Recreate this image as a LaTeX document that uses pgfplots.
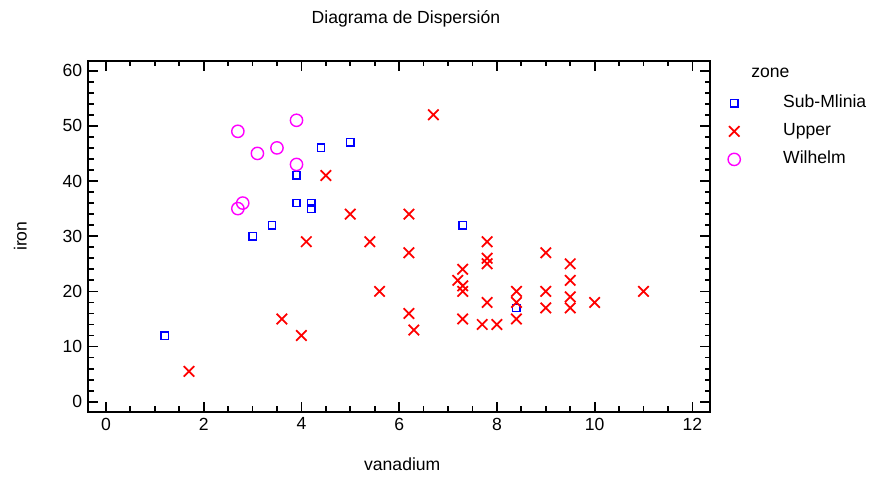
\documentclass[border=0pt]{standalone}
\usepackage{pgfplots}
\pgfplotsset{compat=1.18}
\usepackage{fontspec}
\setmainfont{Liberation Sans}
\definecolor{SubBlue}{RGB}{0,0,255}
\definecolor{UpRed}{RGB}{255,0,0}
\definecolor{WilMag}{RGB}{255,0,255}

\begin{document}
\begin{tikzpicture}
  % 1px = 0.02cm, axis box SW corner at (0,0)
  \useasboundingbox (-1.766,-1.386) rectangle (15.714,8.234);
  \begin{axis}[
    scale only axis,
    width=12.434cm,height=7.02cm,
    xmin=-0.36,xmax=12.36,ymin=-1.8,ymax=61.8,
    xtick={0,2,...,12},ytick={0,10,...,60},
    minor x tick num=3,minor y tick num=4,
    tick align=inside,xtick pos=both,ytick pos=both,
    major tick length=0.2cm,minor tick length=0.11cm,
    axis line style={line width=1.1pt},
    every tick/.style={black,line width=1pt},
    /pgf/number format/assume math mode=true,
    tick label style={font=\fontsize{10}{12}\selectfont},
    label style={font=\fontsize{10}{12}\selectfont},
    title={Diagrama de Dispersión},
    title style={font=\fontsize{10}{12}\selectfont,at={(0.511,1)},anchor=center,yshift=0.63cm},
    xlabel={vanadium},ylabel={iron},
    xlabel style={at={(0.505,0)},anchor=center,yshift=-1.06cm},
    ylabel style={at={(0,0.5)},anchor=center,yshift=1.36cm},
    clip=false,
    legend cell align=left,
    legend image code/.code={\path[draw=none] (0cm,0cm) -- (0.98cm,0cm); \draw[#1] plot[only marks] coordinates {(0cm,0cm)};},
    legend style={draw=none,fill=none,at={(1.020,0.915)},anchor=north west,
      font=\fontsize{10}{12}\selectfont,row sep=0.2cm,
      nodes={inner sep=0pt,text height=0.26cm,text depth=0.1cm}},
  ]
    \addplot[only marks,mark=square,mark size=2.1pt,color=SubBlue,mark options={line width=0.8pt}] coordinates {
      (1.2,12) (3.0,30) (3.4,32) (3.9,41) (3.9,36) (4.2,36) (4.2,35)
      (4.4,46) (5.0,47) (7.3,32) (8.4,17)
    };
    \addlegendentry{Sub-Mlinia}
    \addplot[only marks,mark=x,mark size=4.2pt,color=UpRed,mark options={line width=1pt}] coordinates {
      (1.7,5.5) (3.6,15) (4.0,12) (4.1,29) (4.5,41) (5.0,34) (5.4,29)
      (5.6,20) (6.2,34) (6.2,27) (6.2,16) (6.3,13) (6.7,52)
      (7.2,22) (7.3,21) (7.3,24) (7.3,20) (7.3,15) (7.7,14)
      (7.8,29) (7.8,26) (7.8,25) (7.8,18) (8.0,14)
      (8.4,20) (8.4,18) (8.4,15) (9.0,27) (9.0,20) (9.0,17)
      (9.5,25) (9.5,22) (9.5,19) (9.5,17) (10.0,18) (11.0,20)
    };
    \addlegendentry{Upper}
    \addplot[only marks,mark=o,mark size=3.5pt,color=WilMag,mark options={line width=0.8pt}] coordinates {
      (2.7,49) (3.9,51) (3.1,45) (3.5,46) (3.9,43) (2.8,36) (2.7,35)
    };
    \addlegendentry{Wilhelm}
    \node[anchor=west,font=\fontsize{10}{12}\selectfont,inner sep=0pt] at (rel axis cs:1.066,0.965) {zone};
  \end{axis}
\end{tikzpicture}
\end{document}
